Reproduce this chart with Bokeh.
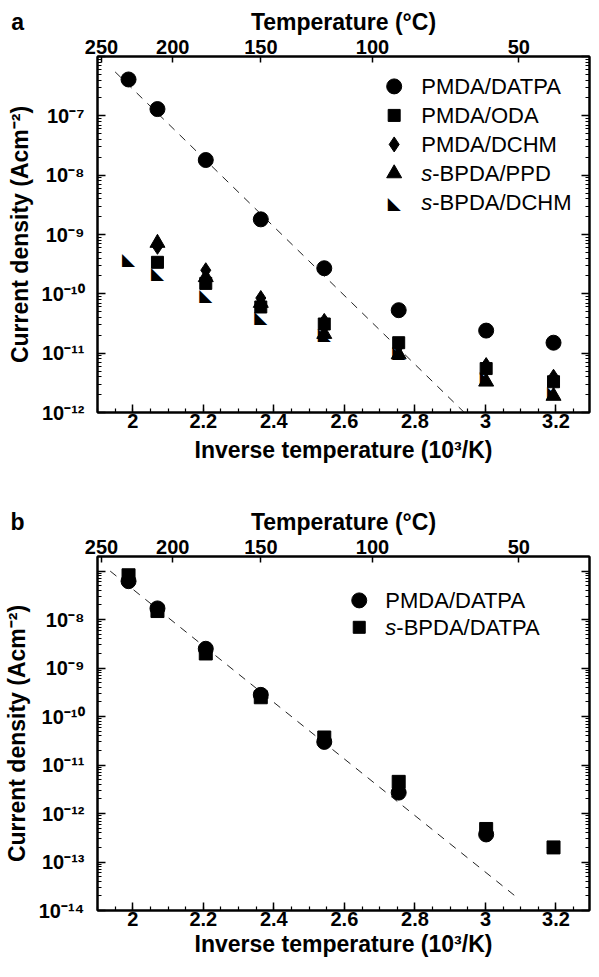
import json
import numpy as np
from bokeh.plotting import figure
from bokeh.layouts import column
from bokeh.models import (Range1d, LinearAxis, LogAxis, FixedTicker, SingleIntervalTicker,
                          CustomJSTickFormatter, LinearScale, ColumnDataSource, Grid)
from bokeh.core.properties import value
from bokeh.embed import file_html
from bokeh.resources import INLINE

# ---------------- data ----------------
top_ticks_C = [250, 200, 150, 100, 50]          # top axis (°C)

# panel a : x = inverse temperature (10^3/K), y = current density (A/cm^2)
a_pmda_datpa_x = [1.988, 2.070, 2.207, 2.363, 2.543, 2.754, 3.002, 3.193]
a_pmda_datpa_y = [4.1e-7, 1.3e-7, 1.8e-8, 1.8e-9, 2.7e-10, 5.3e-11, 2.4e-11, 1.5e-11]
a_pmda_oda_x = [2.070, 2.207, 2.363, 2.543, 2.754, 3.002, 3.193]
a_pmda_oda_y = [3.4e-10, 1.5e-10, 6.0e-11, 3.1e-11, 1.5e-11, 5.5e-12, 3.3e-12]
a_pmda_dchm_x = [2.070, 2.207, 2.363, 2.543, 2.754, 3.002, 3.193]
a_pmda_dchm_y = [6.2e-10, 2.5e-10, 8.5e-11, 3.5e-11, 1.3e-11, 6.3e-12, 4.0e-12]
a_bpda_ppd_x = [2.070, 2.207, 2.363, 2.543, 2.754, 3.002, 3.193]
a_bpda_ppd_y = [7.2e-10, 1.9e-10, 7.0e-11, 2.1e-11, 9.5e-12, 3.3e-12, 1.9e-12]
a_bpda_dchm_x = [1.988, 2.070, 2.207, 2.363, 2.543, 2.754, 3.002, 3.193]
a_bpda_dchm_y = [4.0e-10, 2.3e-10, 1.0e-10, 4.3e-11, 2.2e-11, 1.1e-11, 4.2e-12, 2.3e-12]
a_fit_x = [1.95, 2.94]
a_fit_y = [5.5e-7, 1.0e-12]

# panel b
b_pmda_datpa_x = [1.988, 2.070, 2.207, 2.363, 2.543, 2.754, 3.002]
b_pmda_datpa_y = [6.2e-8, 1.7e-8, 2.5e-9, 2.8e-10, 3.0e-11, 2.7e-12, 3.7e-13]
b_bpda_datpa_x = [1.988, 2.070, 2.207, 2.363, 2.543, 2.754, 3.002, 3.193]
b_bpda_datpa_y = [8.2e-8, 1.5e-8, 2.0e-9, 2.5e-10, 3.7e-11, 4.5e-12, 4.8e-13, 2.0e-13]
b_fit_x = [1.936, 3.096]
b_fit_y = [1.0e-7, 1.7e-14]

# axis ranges / labelled decades
X_RANGE = (1.90, 3.295)
a_y_range = (1e-12, 1e-6)
b_y_range = (1e-14, 2e-7)
a_label_exps = [-7, -8, -9, -10, -11, -12]
b_label_exps = [-8, -9, -10, -11, -12, -13, -14]

# ---------------- style ----------------
FONT = "Liberation Sans"
TICK_FS = "20px"
TITLE_PX = 23
TITLE_FS = f"{TITLE_PX}px"
LEG_FS = "22px"
BLACK = "#000000"
LETTER_LEFT_PX = 86   # distance of panel letter's left edge from the frame's left edge


def style_axis(ax, tick_in=8, minor_in=4):
    ax.axis_line_width = 2
    ax.axis_line_color = BLACK
    ax.major_tick_in = tick_in
    ax.major_tick_out = 0
    ax.minor_tick_in = minor_in
    ax.minor_tick_out = 0
    ax.major_tick_line_width = 1.5
    ax.minor_tick_line_width = 1.2
    ax.major_tick_line_color = BLACK
    ax.minor_tick_line_color = BLACK
    ax.major_label_text_font = FONT
    ax.major_label_text_font_style = "bold"
    ax.major_label_text_font_size = TICK_FS
    ax.major_label_text_color = BLACK
    ax.axis_label_text_font = FONT
    ax.axis_label_text_font_style = "bold"
    ax.axis_label_text_font_size = TITLE_FS
    ax.axis_label_text_color = BLACK


SUP_JS = "{'-':'\u207b','0':'\u2070','1':'\u00b9','2':'\u00b2','3':'\u00b3','4':'\u2074','5':'\u2075','6':'\u2076','7':'\u2077','8':'\u2078','9':'\u2079'}"


def letter_text(letter):
    # label is centred on the frame's left edge; pad with no-break spaces so the
    # letter itself sits out in the left margin
    w_letter = 0.556 * TITLE_PX
    w_nbsp = 0.278 * TITLE_PX
    n = int(round((2 * LETTER_LEFT_PX - w_letter) / w_nbsp))
    return letter + "\u00a0" * n


def make_panel(height, b_top, b_bottom, yr, label_exps, letter, title_standoff):
    p = figure(width=591, height=height, x_range=Range1d(*X_RANGE), y_range=Range1d(*yr),
               y_axis_type="log", x_axis_location=None, y_axis_location=None,
               output_backend="svg", toolbar_location=None,
               min_border_left=95, min_border_right=2, min_border_top=b_top,
               min_border_bottom=b_bottom)
    p.outline_line_color = BLACK
    p.outline_line_width = 2
    p.background_fill_color = "white"
    p.border_fill_color = "white"
    for g in p.select(type=Grid):
        g.visible = False

    # normalised frame coordinates (legend, title row)
    p.extra_x_ranges = {"leg": Range1d(0, 1)}
    p.extra_y_ranges = {"leg": Range1d(0, 1)}
    p.extra_x_scales = {"leg": LinearScale()}
    p.extra_y_scales = {"leg": LinearScale()}

    lo = int(np.floor(np.log10(yr[0])))
    hi = int(np.ceil(np.log10(yr[1])))
    majors = [10.0 ** e for e in range(lo, hi + 1)]
    minors = [m * 10.0 ** e for e in range(lo, hi + 1) for m in range(2, 10)]

    bottom = LinearAxis(ticker=SingleIntervalTicker(interval=0.2, num_minor_ticks=4),
                        formatter=CustomJSTickFormatter(code="return (Math.round(tick*10)/10).toString();"),
                        axis_label="Inverse temperature (10³/K)")
    style_axis(bottom)
    bottom.major_label_standoff = 1
    bottom.axis_label_standoff = title_standoff
    p.add_layout(bottom, "below")

    top = LinearAxis(ticker=FixedTicker(ticks=[1000.0 / (t + 273.15) for t in top_ticks_C], minor_ticks=[]),
                     formatter=CustomJSTickFormatter(code="return Math.round(1000/tick - 273.15).toString();"))
    style_axis(top, tick_in=6)
    top.major_label_standoff = 3
    p.add_layout(top, "above")

    # row with the panel letter and the top axis title
    title_ax = LinearAxis(x_range_name="leg",
                          ticker=FixedTicker(ticks=[0.0, 0.5], minor_ticks=[]),
                          formatter=CustomJSTickFormatter(
                              code="return tick < 0.25 ? %s : 'Temperature (\u00b0C)';"
                              % json.dumps(letter_text(letter))))
    style_axis(title_ax, tick_in=0, minor_in=0)
    title_ax.axis_line_color = None
    title_ax.major_tick_line_color = None
    title_ax.minor_tick_line_color = None
    title_ax.major_label_text_font_size = TITLE_FS
    title_ax.major_label_standoff = 2
    p.add_layout(title_ax, "above")

    left = LogAxis(ticker=FixedTicker(ticks=majors, minor_ticks=minors),
                   formatter=CustomJSTickFormatter(code=(
                       "const e = Math.round(Math.log10(tick));"
                       "if (!%s.includes(e)) return '';"
                       "const s = %s;"
                       "return '10' + String(e).split('').map(c => s[c]).join('');")
                       % (json.dumps(label_exps), SUP_JS)),
                   axis_label="Current density (Acm⁻²)")
    style_axis(left)
    left.major_label_standoff = 13
    left.axis_label_standoff = 6
    p.add_layout(left, "left")

    right = LogAxis(ticker=FixedTicker(ticks=majors, minor_ticks=minors),
                    formatter=CustomJSTickFormatter(code="return '';"))
    style_axis(right)
    right.major_label_standoff = 0
    right.major_label_text_font_size = "0px"
    p.add_layout(right, "right")
    return p


def legend(p, entries, mx, tx, y0, dy):
    for i, (kind, italic, rest) in enumerate(entries):
        y = y0 - i * dy
        if kind == "rtri":
            p.text(x=[mx], y=[y], text=value("◣"), text_align="center", text_baseline="middle",
                   text_font=value("DejaVu Sans"), text_font_size=value("17px"), text_color=BLACK,
                   y_offset=1, x_range_name="leg", y_range_name="leg")
        else:
            size = {"circle": 15, "square": 12, "diamond": 15, "triangle": 15}[kind]
            p.scatter(x=[mx], y=[y], marker=kind, size=size, fill_color=BLACK, line_color=BLACK,
                      x_range_name="leg", y_range_name="leg")
        off = 0
        if italic:
            p.text(x=[tx], y=[y], text=value(italic), text_align="left", text_baseline="middle",
                   text_font=value(FONT), text_font_style="italic", text_font_size=value(LEG_FS),
                   text_color=BLACK, x_range_name="leg", y_range_name="leg")
            off = 11
        p.text(x=[tx], y=[y], text=value(rest), x_offset=off, text_align="left", text_baseline="middle",
               text_font=value(FONT), text_font_size=value(LEG_FS),
               text_color=BLACK, x_range_name="leg", y_range_name="leg")


def rtri(p, xs, ys):
    src = ColumnDataSource(dict(x=xs, y=ys))
    p.text(x="x", y="y", source=src, text=value("◣"), text_align="center", text_baseline="middle",
           text_font=value("DejaVu Sans"), text_font_size=value("17px"), text_color=BLACK, y_offset=1)


# ---------------- panel a ----------------
pa = make_panel(468, 56, 56, a_y_range, a_label_exps, "a", 6)
pa.line(a_fit_x, a_fit_y, line_dash="8 7", line_color="#222222", line_width=1)
pa.scatter(a_pmda_datpa_x, a_pmda_datpa_y, marker="circle", size=15, fill_color=BLACK, line_color=BLACK)
rtri(pa, a_bpda_dchm_x, a_bpda_dchm_y)
pa.scatter(a_pmda_oda_x, a_pmda_oda_y, marker="square", size=12, fill_color=BLACK, line_color=BLACK)
pa.scatter(a_pmda_dchm_x, a_pmda_dchm_y, marker="diamond", size=15, fill_color=BLACK, line_color=BLACK)
pa.scatter(a_bpda_ppd_x, a_bpda_ppd_y, marker="triangle", size=15, fill_color=BLACK, line_color=BLACK)
legend(pa, [("circle", None, "PMDA/DATPA"), ("square", None, "PMDA/ODA"),
            ("diamond", None, "PMDA/DCHM"), ("triangle", "s", "-BPDA/PPD"),
            ("rtri", "s", "-BPDA/DCHM")], 0.603, 0.658, 0.916, 0.0815)

# ---------------- panel b ----------------
pb = make_panel(493, 88, 51, b_y_range, b_label_exps, "b", 2)
pb.line(b_fit_x, b_fit_y, line_dash="8 7", line_color="#222222", line_width=1)
pb.scatter(b_bpda_datpa_x, b_bpda_datpa_y, marker="square", size=13, fill_color=BLACK, line_color=BLACK)
pb.scatter(b_pmda_datpa_x, b_pmda_datpa_y, marker="circle", size=15, fill_color=BLACK, line_color=BLACK)
legend(pb, [("circle", None, "PMDA/DATPA"), ("square", "s", "-BPDA/DATPA")],
       0.532, 0.585, 0.876, 0.076)

layout = column(pa, pb)
with open("out.html", "w", encoding="utf-8") as f:
    f.write(file_html(layout, INLINE))
